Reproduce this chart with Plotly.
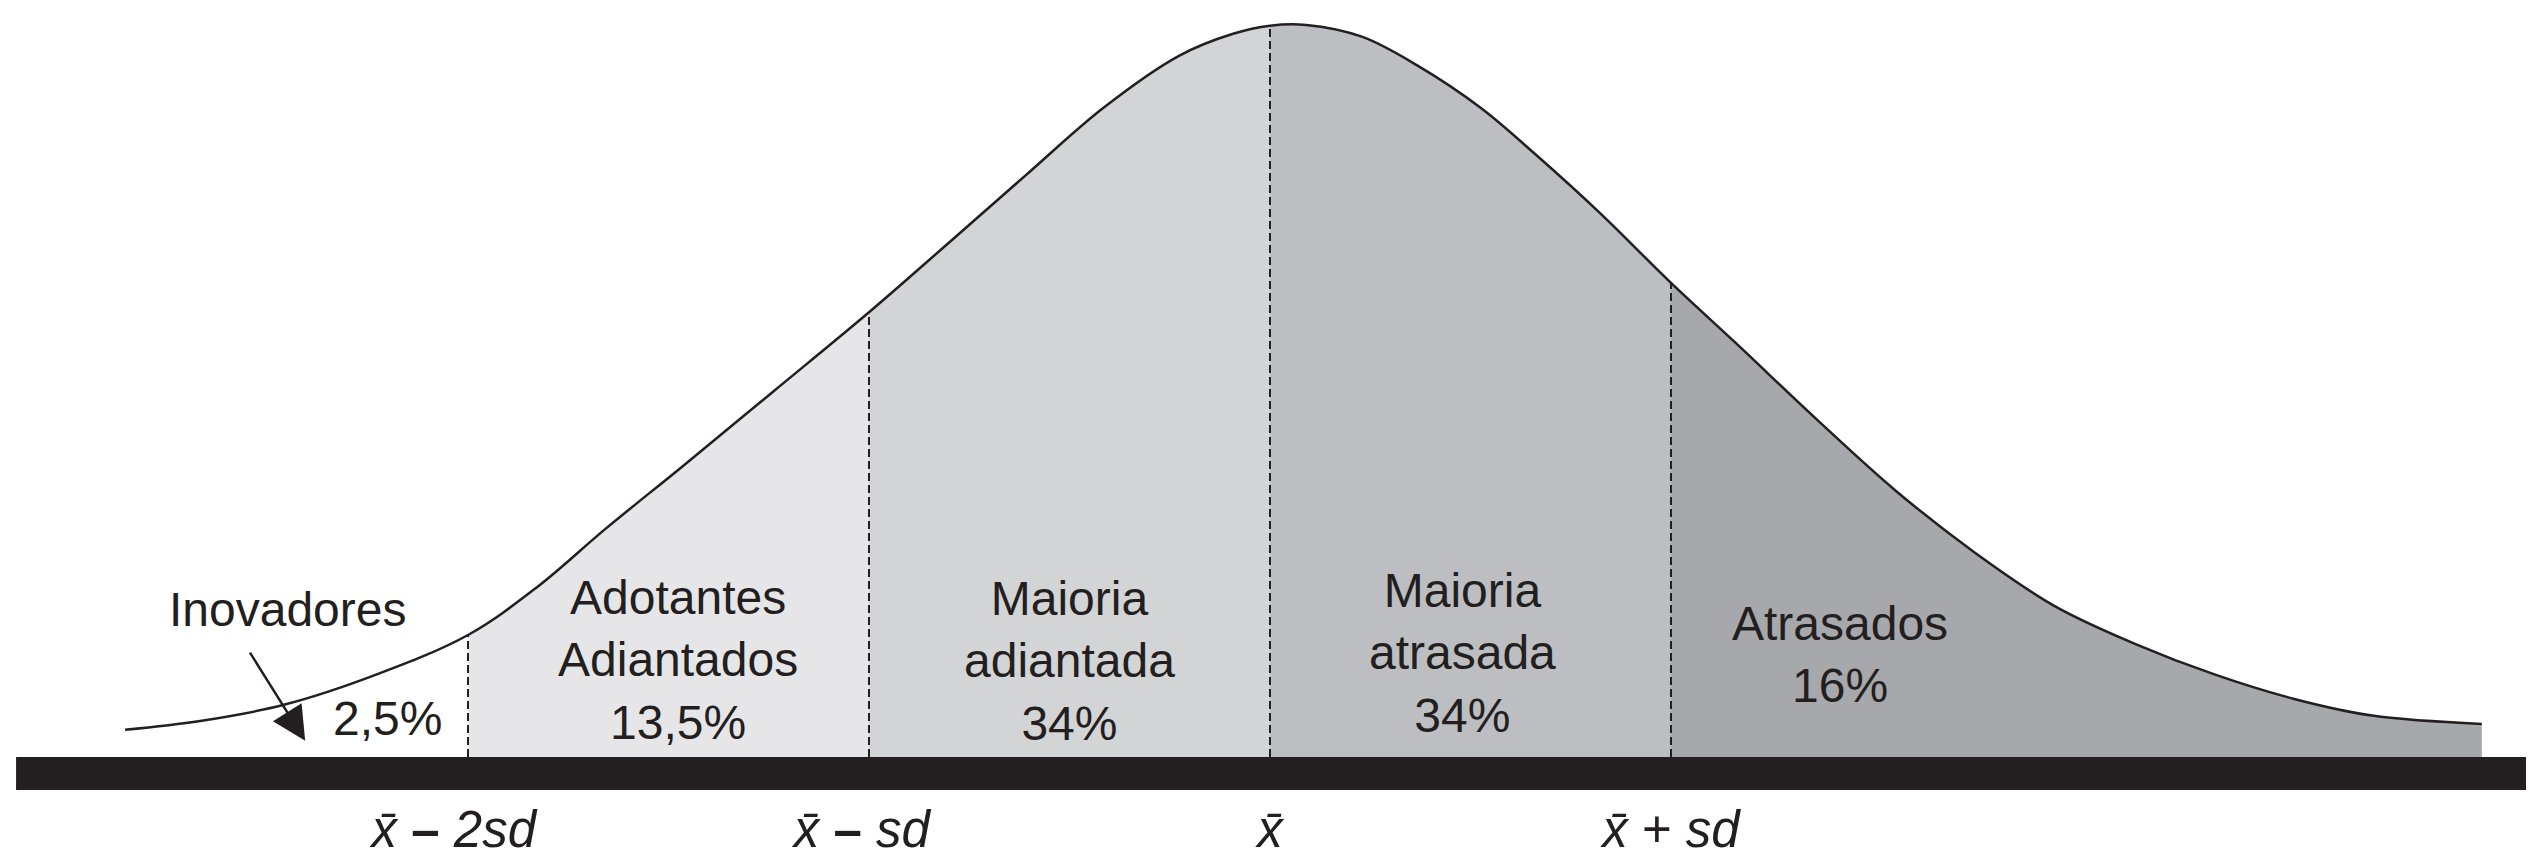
import plotly.graph_objects as go

# curve: x in sd units from the mean, y relative to the peak
curve_x = [-2.855, -2.668, -2.459, -2.229, -2.0, -1.828, -1.658, -1.466, -1.237, -1.0,
           -0.798, -0.608, -0.416, -0.227, -0.092, 0.0, 0.09, 0.229, 0.367, 0.526,
           0.666, 0.825, 1.0, 1.162, 1.362, 1.561, 1.758, 1.958, 2.157, 2.357,
           2.554, 2.753, 3.022]
curve_y = [0.037, 0.049, 0.071, 0.112, 0.166, 0.231, 0.310, 0.395, 0.498, 0.605,
           0.701, 0.792, 0.883, 0.954, 0.984, 0.995, 0.996, 0.980, 0.941, 0.883,
           0.818, 0.739, 0.645, 0.563, 0.460, 0.362, 0.278, 0.205, 0.154, 0.112,
           0.079, 0.056, 0.045]

# adopter categories (Rogers)
groups = ["Inovadores", "Adotantes<br>Adiantados", "Maioria<br>adiantada",
          "Maioria<br>atrasada", "Atrasados"]
shares = ["2,5%", "13,5%", "34%", "34%", "16%"]
group_bounds = [(-3.0, -2.0), (-2.0, -1.0), (-1.0, 0.0), (0.0, 1.0), (1.0, 3.1)]
group_colors = ["#ffffff", "#e6e6e8", "#d3d4d6", "#bdbec1", "#a7a8ab"]

dividers = [-2.0, -1.0, 0.0, 1.0]
NB = "\u00a0"
tick_text = ["<i>x̄</i> <b>–</b> <i>2sd</i>" + NB * 2, "<i>x̄</i> <b>–</b> <i>sd</i>" + NB,
             "<i>x̄</i>", "<i>x̄</i> + <i>sd</i>"]

INK = "#231f20"
FONT = "Liberation Sans, Arial, sans-serif"

fig = go.Figure()

# shaded areas under the curve, one per group
for (lo, hi), col in zip(group_bounds[1:], group_colors[1:]):
    xs = [x for x in curve_x if lo <= x <= hi]
    ys = [y for x, y in zip(curve_x, curve_y) if lo <= x <= hi]
    fig.add_trace(go.Scatter(x=xs, y=ys, mode="lines", fill="tozeroy",
                             fillcolor=col, line=dict(width=0, shape="spline"),
                             hoverinfo="skip", showlegend=False))

# dashed separators at the mean and sd marks
for d in dividers:
    top = curve_y[curve_x.index(d)]
    fig.add_trace(go.Scatter(x=[d, d], y=[0, top], mode="lines",
                             line=dict(color=INK, width=2, dash="8px,4px"),
                             hoverinfo="skip", showlegend=False))

# outline
fig.add_trace(go.Scatter(x=curve_x, y=curve_y, mode="lines",
                         line=dict(color=INK, width=2.5, shape="spline"),
                         hoverinfo="skip", showlegend=False))

# base bar
fig.add_shape(type="rect", x0=-3.127, x1=3.155, y0=-0.0449, y1=0,
              fillcolor=INK, line_width=0, layer="above")

# group labels
label_pos = [(-2.449, 0.201), (-1.476, 0.132), (-0.501, 0.131), (0.481, 0.142), (1.421, 0.140)]
for i, (g, s) in enumerate(zip(groups, shares)):
    x, y = label_pos[i]
    text = g if i == 0 else g + "<br>" + s
    fig.add_annotation(x=x, y=y, text=text, showarrow=False, xanchor="center",
                       yanchor="middle", font=dict(family=FONT, size=48, color=INK))

# innovators share sits below its name, with an arrow
fig.add_annotation(x=-2.2, y=0.053, text=shares[0], showarrow=False,
                   font=dict(family=FONT, size=48, color=INK))
fig.add_annotation(x=-2.406, y=0.022, ax=-2.546, ay=0.144, axref="x", ayref="y",
                   text="", showarrow=True, arrowhead=2, arrowsize=2.7,
                   arrowwidth=2.5, arrowcolor=INK)

fig.update_layout(
    width=2534, height=857,
    margin=dict(l=0, r=0, t=0, b=75),
    paper_bgcolor="white", plot_bgcolor="white",
    xaxis=dict(range=[-3.1471, 3.1721], showgrid=False, zeroline=False,
               showline=False, tickvals=dividers, ticktext=tick_text,
               ticks="", ticklabelstandoff=5, automargin=False,
               tickfont=dict(family=FONT, size=51, color=INK)),
    yaxis=dict(range=[-0.0449, 1.0190], visible=False, automargin=False),
    showlegend=False,
)

fig.write_html("out.html")
